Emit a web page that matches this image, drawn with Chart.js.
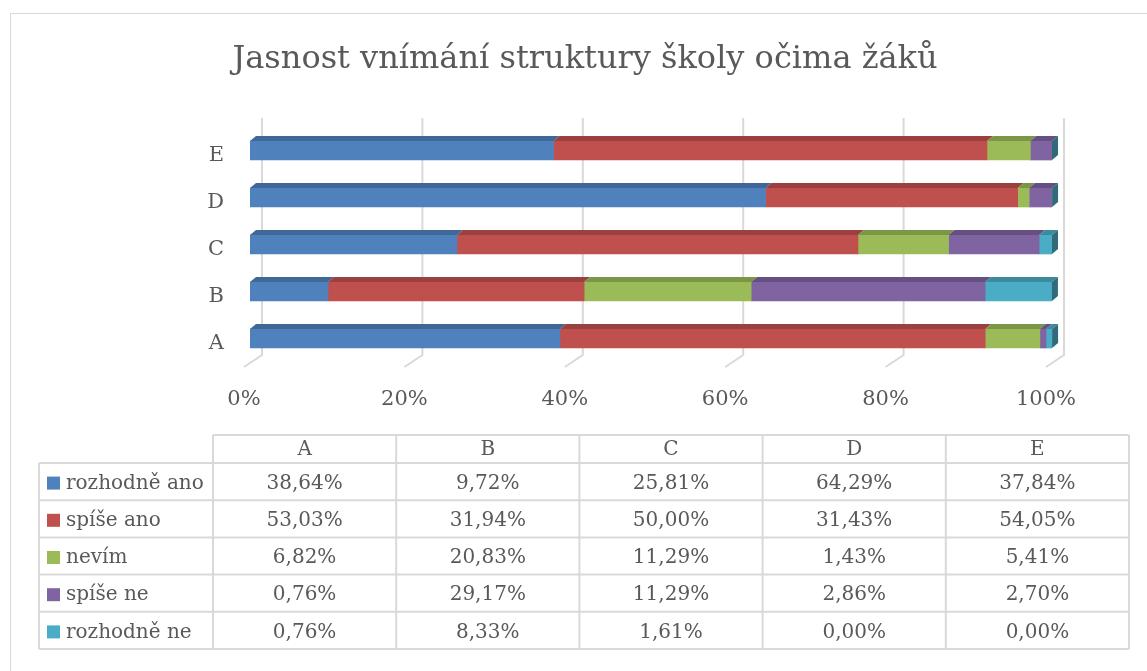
<!DOCTYPE html>
<html>
<head>
<meta charset="utf-8">
<script src="https://cdn.jsdelivr.net/npm/chart.js@4"></script>
<style>
  html, body { margin: 0; padding: 0; background: #fff; }
</style>
</head>
<body>
<canvas id="chart" width="1147" height="671"></canvas>
<script>
const categories = ['A', 'B', 'C', 'D', 'E'];
const seriesNames = ['rozhodně ano', 'spíše ano', 'nevím', 'spíše ne', 'rozhodně ne'];
const rozhodneAno = [38.64, 9.72, 25.81, 64.29, 37.84];
const spiseAno = [53.03, 31.94, 50.00, 31.43, 54.05];
const nevim = [6.82, 20.83, 11.29, 1.43, 5.41];
const spiseNe = [0.76, 29.17, 11.29, 2.86, 2.70];
const rozhodneNe = [0.76, 8.33, 1.61, 0.00, 0.00];
const tickLabels = ['0%', '20%', '40%', '60%', '80%', '100%'];
const seriesColors = ['#4F81BD', '#C0504D', '#9BBB59', '#8064A2', '#4BACC6'];

const title = 'Jasnost vnímání struktury školy očima žáků';
const textColor = '#595959';
const lineColor = '#D9D9D9';
const fontFamily = '"DejaVu Serif", serif';

Chart.defaults.font.family = fontFamily;

// darken a hex colour
function shade(hex, f) {
  const n = parseInt(hex.slice(1), 16);
  const r = Math.round(((n >> 16) & 255) * f);
  const g = Math.round(((n >> 8) & 255) * f);
  const b = Math.round((n & 255) * f);
  return `rgb(${r},${g},${b})`;
}

function fmt(v) {
  return v.toFixed(2).replace('.', ',') + '%';
}

const allSeries = [rozhodneAno, spiseAno, nevim, spiseNe, rozhodneNe];

// 3D look, gridlines, title and data table
const decoPlugin = {
  id: 'deco',
  beforeDraw(chart) {
    const ctx = chart.ctx;
    ctx.save();
    ctx.strokeStyle = lineColor;
    ctx.lineWidth = 1;
    ctx.strokeRect(10.5, 13.5, 1200, 700);
    ctx.restore();
  },
  beforeDatasetsDraw(chart) {
    const ctx = chart.ctx;
    const area = chart.chartArea;
    const xs = chart.scales.x;
    ctx.save();
    ctx.strokeStyle = lineColor;
    ctx.lineWidth = 2;
    xs.ticks.forEach(t => {
      const px = xs.getPixelForValue(t.value);
      ctx.beginPath();
      ctx.moveTo(px + 12, area.top - 9);
      ctx.lineTo(px + 12, area.bottom - 7);
      ctx.lineTo(px - 6, area.bottom + 5);
      ctx.stroke();
    });
    ctx.restore();
  },
  afterDatasetsDraw(chart) {
    const ctx = chart.ctx;
    const dx = 6, dy = 5;
    ctx.save();
    const n = chart.data.datasets.length;
    for (let d = 0; d < n; d++) {
      const meta = chart.getDatasetMeta(d);
      const col = seriesColors[d];
      meta.data.forEach(bar => {
        const p = bar.getProps(['x', 'y', 'base', 'height'], true);
        const top = p.y - p.height / 2;
        const bottom = p.y + p.height / 2;
        const x0 = Math.min(p.base, p.x), x1 = Math.max(p.base, p.x);
        ctx.fillStyle = shade(col, 0.8);
        ctx.beginPath();
        ctx.moveTo(x0, top);
        ctx.lineTo(x1, top);
        ctx.lineTo(x1 + dx, top - dy);
        ctx.lineTo(x0 + dx, top - dy);
        ctx.closePath();
        ctx.fill();
        if (d === n - 1) {
          ctx.fillStyle = shade(col, 0.62);
          ctx.beginPath();
          ctx.moveTo(x1, top);
          ctx.lineTo(x1 + dx, top - dy);
          ctx.lineTo(x1 + dx, bottom - dy);
          ctx.lineTo(x1, bottom);
          ctx.closePath();
          ctx.fill();
        }
      });
    }
    ctx.restore();
  },
  afterDraw(chart) {
    const ctx = chart.ctx;
    ctx.save();
    // title
    ctx.fillStyle = textColor;
    ctx.font = `32px ${fontFamily}`;
    ctx.textAlign = 'center';
    ctx.textBaseline = 'middle';
    ctx.fillText(title, 585, 60);

    // data table
    const tableTop = 435, headerH = 28, rowH = 37.2;
    const legendX = 39, colX0 = 213, colW = 183.2;
    const tableRight = colX0 + colW * categories.length;
    const tableBottom = tableTop + headerH + rowH * seriesNames.length;
    ctx.strokeStyle = lineColor;
    ctx.lineWidth = 2;
    ctx.beginPath();
    ctx.moveTo(colX0, tableTop); ctx.lineTo(tableRight, tableTop);
    for (let r = 0; r <= seriesNames.length; r++) {
      const y = tableTop + headerH + rowH * r;
      ctx.moveTo(legendX, y); ctx.lineTo(tableRight, y);
    }
    ctx.moveTo(legendX, tableTop + headerH); ctx.lineTo(legendX, tableBottom);
    for (let c = 0; c <= categories.length; c++) {
      const x = colX0 + colW * c;
      ctx.moveTo(x, tableTop); ctx.lineTo(x, tableBottom);
    }
    ctx.stroke();

    ctx.font = `20px ${fontFamily}`;
    ctx.fillStyle = textColor;
    ctx.textBaseline = 'middle';
    ctx.textAlign = 'center';
    categories.forEach((c, i) => {
      ctx.fillText(c, colX0 + colW * (i + 0.5), tableTop + headerH / 2 + 1);
    });
    seriesNames.forEach((name, r) => {
      const cy = tableTop + headerH + rowH * (r + 0.5) + 2;
      ctx.fillStyle = seriesColors[r];
      ctx.fillRect(47, cy - 7, 13, 13);
      ctx.fillStyle = textColor;
      ctx.textAlign = 'left';
      ctx.fillText(name, 66, cy);
      ctx.textAlign = 'center';
      allSeries[r].forEach((v, i) => {
        ctx.fillText(fmt(v), colX0 + colW * (i + 0.5), cy);
      });
    });
    ctx.restore();
  }
};

new Chart(document.getElementById('chart'), {
  type: 'bar',
  data: {
    labels: categories,
    datasets: allSeries.map((vals, i) => ({
      label: seriesNames[i],
      data: vals,
      backgroundColor: seriesColors[i],
      borderWidth: 0,
      barThickness: 19
    }))
  },
  options: {
    indexAxis: 'y',
    responsive: false,
    animation: false,
    layout: { padding: { top: 127, right: 95, bottom: 0, left: 0 } },
    plugins: {
      legend: { display: false },
      tooltip: { enabled: false },
      title: { display: false }
    },
    scales: {
      x: {
        stacked: true,
        min: 0,
        max: 100,
        grid: { display: false },
        border: { display: false },
        ticks: {
          stepSize: 20,
          color: textColor,
          font: { size: 21 },
          padding: 17,
          labelOffset: -6,
          callback: (v, i) => tickLabels[i]
        },
        afterFit: s => { s.height = 309; }
      },
      y: {
        stacked: true,
        reverse: true,
        grid: { display: false },
        border: { display: false },
        ticks: {
          color: textColor,
          font: { size: 21 },
          padding: 18,
          labelOffset: 5
        },
        afterFit: s => { s.width = 250; }
      }
    }
  },
  plugins: [decoPlugin]
});
</script>
</body>
</html>
